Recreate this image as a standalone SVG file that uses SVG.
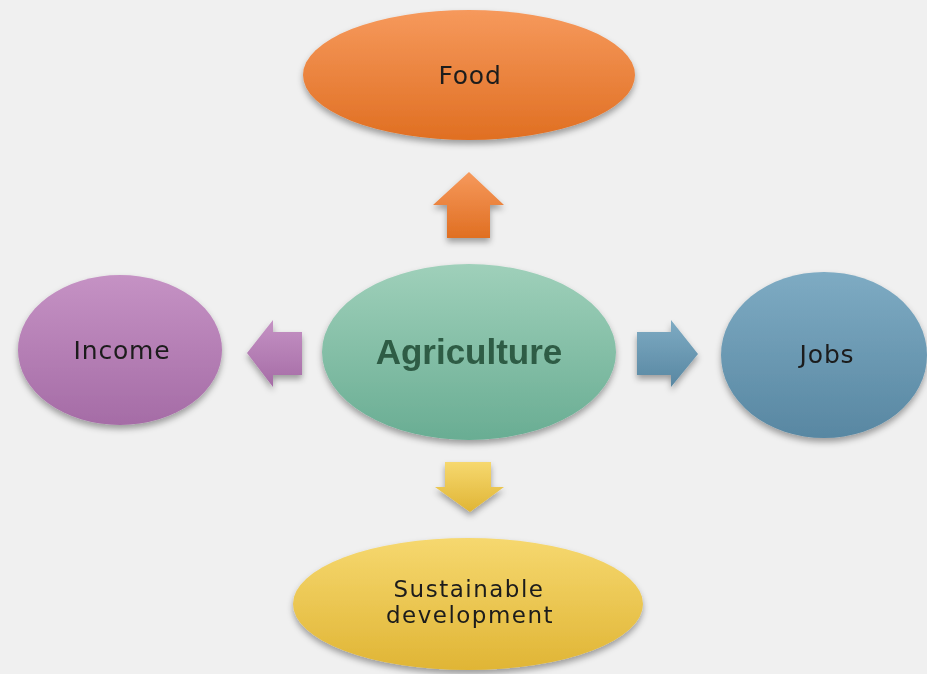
<svg xmlns="http://www.w3.org/2000/svg" width="927" height="674" viewBox="0 0 927 674">
<style>
.lbl{font-family:"DejaVu Sans","Liberation Sans",sans-serif;font-size:25px;letter-spacing:0.8px;fill:#1c1c1c;text-anchor:middle}
.sm{font-size:23px;letter-spacing:1.5px}
.main{font-family:"Liberation Sans",Arial,sans-serif;font-size:35px;font-weight:bold;fill:#2e5b44;text-anchor:middle}
</style>
<defs>
<filter id="sh" x="-20%" y="-20%" width="140%" height="150%">
<feDropShadow dx="0" dy="4" stdDeviation="3" flood-color="#000" flood-opacity="0.35"/>
</filter>
<linearGradient id="gOr" x1="0" y1="0" x2="0" y2="1"><stop offset="0" stop-color="#f6995c"/><stop offset="1" stop-color="#e06f22"/></linearGradient>
<linearGradient id="gPu" x1="0" y1="0" x2="0" y2="1"><stop offset="0" stop-color="#c592c4"/><stop offset="1" stop-color="#a56ca6"/></linearGradient>
<linearGradient id="gBl" x1="0" y1="0" x2="0" y2="1"><stop offset="0" stop-color="#7eabc3"/><stop offset="1" stop-color="#5887a2"/></linearGradient>
<linearGradient id="gGr" x1="0" y1="0" x2="0" y2="1"><stop offset="0" stop-color="#9fd0ba"/><stop offset="1" stop-color="#69ad93"/></linearGradient>
<linearGradient id="gYe" x1="0" y1="0" x2="0" y2="1"><stop offset="0" stop-color="#f6d86f"/><stop offset="1" stop-color="#e0b535"/></linearGradient>
</defs>
<rect width="927" height="674" fill="#f0f0f0"/>
<g id="connectors" filter="url(#sh)">
<polygon points="469,172 504,205 490,205 490,238 447,238 447,205 433,205" fill="url(#gOr)"/>
<polygon points="247,353 273,320 273,332 302,332 302,375 273,375 273,387" fill="url(#gPu)"/>
<polygon points="698,354 671,320 671,332 637,332 637,375 671,375 671,387" fill="url(#gBl)"/>
<polygon points="470,512 504,487 491,487 491,462 445,462 445,487 435,487" fill="url(#gYe)"/>
</g>
<g id="food" filter="url(#sh)">
<ellipse cx="469" cy="75" rx="166" ry="65" fill="url(#gOr)"/>
<text class="lbl" x="470" y="84">Food</text>
</g>
<g id="income" filter="url(#sh)">
<ellipse cx="120" cy="350" rx="102" ry="75" fill="url(#gPu)"/>
<text class="lbl" x="122" y="359">Income</text>
</g>
<g id="agriculture" filter="url(#sh)">
<ellipse cx="469" cy="352" rx="147" ry="88" fill="url(#gGr)"/>
<text class="main" x="469" y="364">Agriculture</text>
</g>
<g id="jobs" filter="url(#sh)">
<ellipse cx="824" cy="355" rx="103" ry="83" fill="url(#gBl)"/>
<text class="lbl" x="827" y="363">Jobs</text>
</g>
<g id="sustainable" filter="url(#sh)">
<ellipse cx="468" cy="604" rx="175" ry="66" fill="url(#gYe)"/>
<text class="lbl sm" x="469" y="597">Sustainable</text>
<text class="lbl sm" x="470" y="623">development</text>
</g>
</svg>
